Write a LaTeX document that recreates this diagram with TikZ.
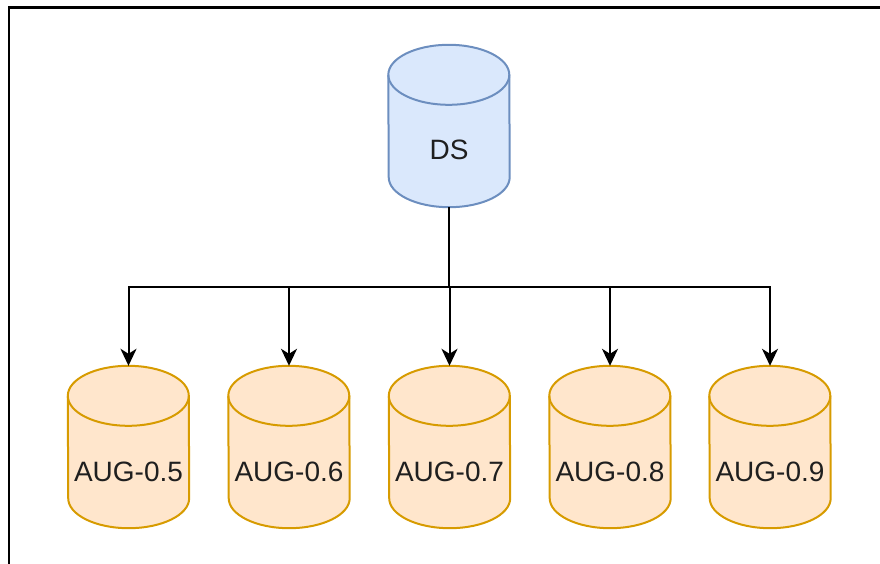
\documentclass[tikz,border=0pt]{standalone}
\usepackage{fontspec}
\setmainfont{Liberation Sans}
\usetikzlibrary{arrows.meta,calc,backgrounds}

\definecolor{dsfill}{HTML}{DAE8FC}
\definecolor{dsline}{HTML}{6C8EBF}
\definecolor{augfill}{HTML}{FFE6CC}
\definecolor{augline}{HTML}{D79B00}
\definecolor{labeltext}{HTML}{1F1F1F}

\tikzset{
  % cylinder body: the node is the bounding box, the text sits in the lower body
  dbnode/.style={rectangle, draw=none, inner sep=0pt,
    minimum width=121pt, minimum height=162pt,
    text height=68pt, text depth=0pt, text=labeltext,
    font=\fontsize{28}{34}\selectfont},
  cylline/.style={line width=2pt},
  conn/.style={line width=2pt, draw=black,
    -{Stealth[length=17pt,width=16pt,inset=5pt]}},
  framing/.style={line width=2.5pt, draw=black, line join=miter}
}

\begin{document}
\begin{tikzpicture}[x=1pt,y=1pt]
  \useasboundingbox (0,0) rectangle (880,-564);

  % outer frame (left and top edges)
  \draw[framing] (9,-564) -- (9,-7.5) -- (880,-7.5);

  % data stores
  \node[dbnode] (ds) at (449,-126) {DS};
  \node[dbnode] (a5) at (128.5,-447) {AUG-0.5};
  \node[dbnode] (a6) at (289,-447) {AUG-0.6};
  \node[dbnode] (a7) at (449.5,-447) {AUG-0.7};
  \node[dbnode] (a8) at (610,-447) {AUG-0.8};
  \node[dbnode] (a9) at (770,-447) {AUG-0.9};

  % cylinder outlines behind the labels
  \begin{pgfonlayer}{background}
    \foreach \n/\f/\d in {ds/dsfill/dsline, a5/augfill/augline,
                          a6/augfill/augline, a7/augfill/augline,
                          a8/augfill/augline, a9/augfill/augline}{
      \filldraw[cylline, fill=\f, draw=\d]
        ([yshift=-30pt]\n.north west)
          arc[start angle=180, end angle=0, x radius=60.5pt, y radius=30pt]
        -- ([yshift=30pt]\n.south east)
          arc[start angle=0, end angle=-180, x radius=60.5pt, y radius=30pt]
        -- cycle;
      \draw[cylline, draw=\d]
        ([yshift=-30pt]\n.north west)
          arc[start angle=180, end angle=360, x radius=60.5pt, y radius=30pt];
    }
  \end{pgfonlayer}

  % distribution connectors
  \coordinate (bus) at ($(ds.south)!0.5!(ds.south |- a7.north)$);
  \foreach \t in {a5,a6,a7,a8,a9}{
    \draw[conn] (ds.south) |- (bus) -| (\t.north);
  }
\end{tikzpicture}
\end{document}
